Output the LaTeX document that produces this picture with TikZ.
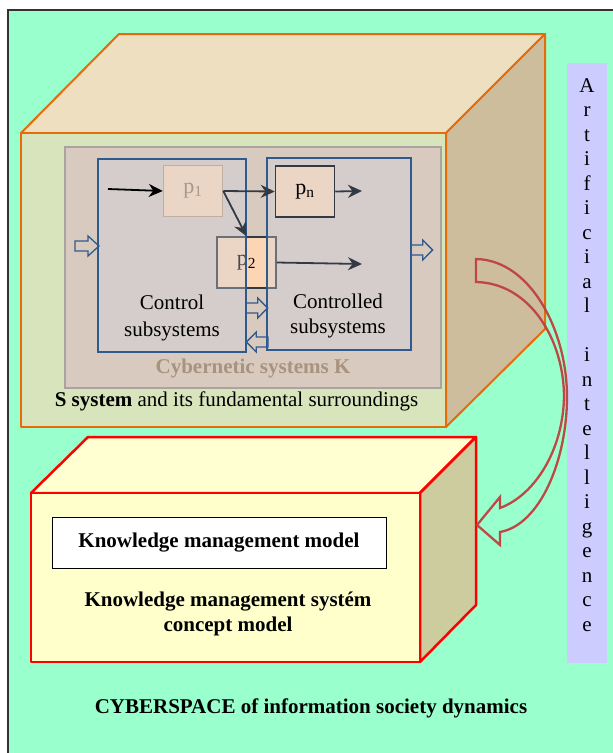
\documentclass[tikz,border=0pt]{standalone}
\usepackage{fontspec}
\setmainfont{Liberation Serif}
\usetikzlibrary{arrows.meta}

\definecolor{bggreen}{HTML}{99FFCC}
\definecolor{aiblue}{HTML}{CCCCFF}
\definecolor{stop}{HTML}{EEDFC0}
\definecolor{sfront}{HTML}{D8E4BC}
\definecolor{sside}{HTML}{CDBD9D}
\definecolor{orng}{HTML}{E46C0A}
\definecolor{kfill}{HTML}{D8CABF}
\definecolor{kdraw}{HTML}{A9A4A0}
\definecolor{ktext}{HTML}{A8937E}
\definecolor{blueln}{HTML}{2E5A8E}
\definecolor{subfill}{HTML}{CDD5E5}
\definecolor{pfill}{HTML}{EBD6C6}
\definecolor{pfaint}{HTML}{BFAEA2}
\definecolor{ptext}{HTML}{A8998C}
\definecolor{ppeach}{HTML}{FCD5B4}
\definecolor{arrowgray}{HTML}{333A44}
\definecolor{kmfront}{HTML}{FFFFCC}
\definecolor{kmtop}{HTML}{FFFFD2}
\definecolor{kmside}{HTML}{CCCC9E}
\definecolor{curvered}{HTML}{BF4040}

\tikzset{
  bigtext/.style={font=\fontsize{21}{26}\selectfont},
  procbox/.style={minimum width=59pt, minimum height=51pt, inner sep=0pt, line width=1.5pt,
                  font=\fontsize{22}{25}\selectfont},
  subbox/.style={draw=blueln, line width=1.5pt, fill=subfill, fill opacity=0.35},
  flow/.style={-{Stealth[length=14pt,width=13pt]}, line width=1.8pt, draw=arrowgray},
  box3d/.style={line width=2pt, line join=round},
  pics/blockarrow/.style={code={
    \draw[blueln, line width=1.3pt, line join=miter]
      (0,-5) -- (13,-5) -- (13,-10) -- (24,0) -- (13,10) -- (13,5) -- (0,5) -- cycle;}},
}

\begin{document}
\begin{tikzpicture}[x=1pt, y=-1pt, bigtext]
\useasboundingbox (0,0) rectangle (613,753);
\fill[white] (0,0) rectangle (613,753);

% cyberspace background
\fill[bggreen] (8,10) rectangle (613,753);
\draw[line width=1.2pt, black!80] (8,753) -- (8,10) -- (613,10);

% S system block
\filldraw[box3d, fill=stop, draw=orng] (21,133) -- (119,34) -- (545,34) -- (446,133) -- cycle;
\filldraw[box3d, fill=sside, draw=orng] (446,133) -- (545,34) -- (545,329) -- (446,427) -- cycle;
\filldraw[box3d, fill=sfront, draw=orng] (21,133) rectangle (446,427);

% cybernetic systems K
\filldraw[fill=kfill, draw=kdraw, line width=1.2pt] (65,147) rectangle (441,388);

% process under both subsystem frames
\node[procbox, draw=arrowgray, fill=ppeach] (p2) at (246.5,262.5) {p\textsubscript{2}};

% control and controlled subsystems
\draw[subbox] (98,159) rectangle (246,352);
\draw[subbox] (267,158) rectangle (411,350);
\draw[blueln, line width=1.5pt] (98,159) rectangle (246,352);
\draw[blueln, line width=1.5pt] (267,158) rectangle (411,350);

\node[procbox, draw=pfaint, fill=pfill, text=ptext] (p1) at (193,191) {p\textsubscript{1}};
\node[procbox, draw=arrowgray, fill=pfill] (pn) at (305,191.5) {p\textsubscript{n}};

% process flows
\coordinate (pin) at (108,189);
\coordinate (pnout) at (362,191);
\coordinate (p2out) at (362,264);
\draw[flow, draw=black] (pin) -- (p1.west);
\draw[flow] (p1.east) -- (pn.west);
\draw[flow] (p1.east) -- (p2.north);
\draw[flow] (pn.east) -- (pnout);
\draw[flow] (p2.east) -- (p2out);

% hollow transfer arrows
\pic at (75,246) {blockarrow};
\pic[xscale=0.9] at (411,250) {blockarrow};
\pic[xscale=0.9] at (246,308) {blockarrow};
\pic[xscale=-0.9] at (268,342) {blockarrow};

% labels
\node[align=center, font=\fontsize{21}{27}\selectfont] (ctltext) at (172,318) {Control\\subsystems};
\node[align=center, font=\fontsize{21}{25}\selectfont] (cdtext) at (338,316) {Controlled\\subsystems};
\node[text=ktext, font=\bfseries\fontsize{21}{25}\selectfont] (ktitle) at (253,368) {Cybernetic systems K};
\node (stitle) at (236.5,401) {\textbf{S system} and its fundamental surroundings};

% knowledge management block
\filldraw[box3d, line width=2.5pt, fill=kmtop, draw=red] (31,493) -- (88,437) -- (476,437) -- (420,493) -- cycle;
\filldraw[box3d, line width=2.5pt, fill=kmside, draw=red] (420,493) -- (476,437) -- (476,605) -- (420,662) -- cycle;
\filldraw[box3d, line width=2.5pt, fill=kmfront, draw=red] (31,493) rectangle (420,662);

\node[draw=black, fill=white, line width=1pt, minimum width=334pt, minimum height=51pt,
      font=\bfseries\fontsize{21}{25}\selectfont] (kmm) at (219,542.5) {Knowledge management model};
\node[align=center, font=\bfseries\fontsize{21}{25}\selectfont] (kmc) at (228,614)
  {Knowledge management systém\\concept model};

% artificial intelligence panel
\fill[aiblue] (567,63) rectangle (607,663);
\foreach \ch [count=\i from 0] in {A,r,t,i,f,i,c,i,a,l}
  \node[anchor=base] (aiA\i) at (587,92+24.5*\i) {\ch};
\foreach \ch [count=\i from 11] in {i,n,t,e,l,l,i,g,e,n,c,e}
  \node[anchor=base] (aiB\i) at (587,92+24.5*\i) {\ch};

% knowledge transfer arrow
\draw[curvered, line width=2.3pt, line join=miter, opacity=0.95]
  (476,259) .. controls (530,260) and (567,330) .. (567,397)
  .. controls (567,460) and (540,525) .. (500,532)
  -- (500,545) -- (477,525) -- (500,497) -- (500,508)
  .. controls (535,495) and (563,450) .. (564,397)
  .. controls (564,340) and (530,283) .. (476,282) -- cycle;

% cyberspace title
\node[font=\bfseries\fontsize{21}{25}\selectfont] (cyber) at (311,708) {CYBERSPACE of information society dynamics};
\end{tikzpicture}
\end{document}
